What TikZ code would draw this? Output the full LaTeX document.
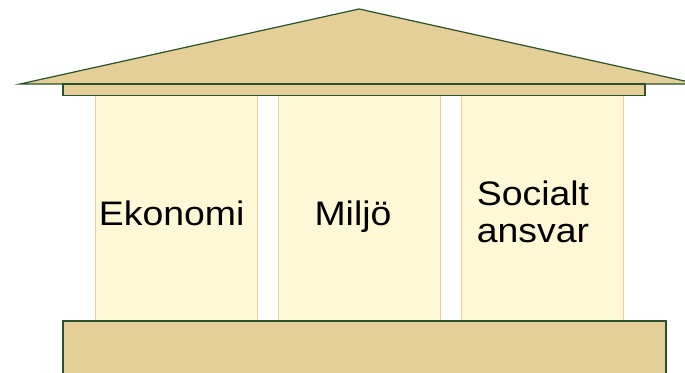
\documentclass[tikz,border=0pt]{standalone}
\usepackage{fontspec}
\setmainfont{Liberation Sans}
\definecolor{roofFill}{RGB}{229,207,153}
\definecolor{roofLine}{RGB}{40,82,40}
\definecolor{colFill}{RGB}{255,248,214}
\definecolor{colLine}{RGB}{232,208,150}
\tikzset{
  stone/.style={fill=roofFill, draw=roofLine, line width=1.2pt, line join=miter},
  pillar/.style={fill=colFill, draw=colLine, line width=0.9pt},
  lbl/.style={inner sep=0pt, font=\fontsize{34}{37}\selectfont},
}
\newcommand{\wide}[1]{\scalebox{1.1}[1]{#1}}
\begin{document}
\begin{tikzpicture}[x=1pt, y=-1pt]
  \useasboundingbox (0,0) rectangle (685,372);
  \clip (0,0) rectangle (685,372);
  % pillars
  \draw[pillar] (95,95) rectangle (257.5,323);
  \draw[pillar] (278.5,95) rectangle (440.5,323);
  \draw[pillar] (461.5,95) rectangle (623.5,323);
  % pediment and entablature
  \coordinate (roofL) at (20,84);
  \coordinate (roofT) at (359,9);
  \coordinate (roofR) at (698,84);
  \draw[stone] (roofL) -- (roofT) -- (roofR) -- cycle;
  \draw[stone] (63,84) rectangle (645,95.5);
  % base
  \draw[stone] (63,380) -- (63,321) -- (666,321) -- (666,380);
  % pillar labels
  \node[lbl, anchor=base] (eko) at (171.7,225.5) {\wide{Ekonomi}};
  \node[lbl, anchor=base] (mil) at (353,225.5) {\wide{Miljö}};
  \node[lbl, anchor=base] (soc) at (533,205.7)
    {\wide{\begin{tabular}[t]{@{}c@{}}Socialt\\ansvar\end{tabular}}};
\end{tikzpicture}
\end{document}
